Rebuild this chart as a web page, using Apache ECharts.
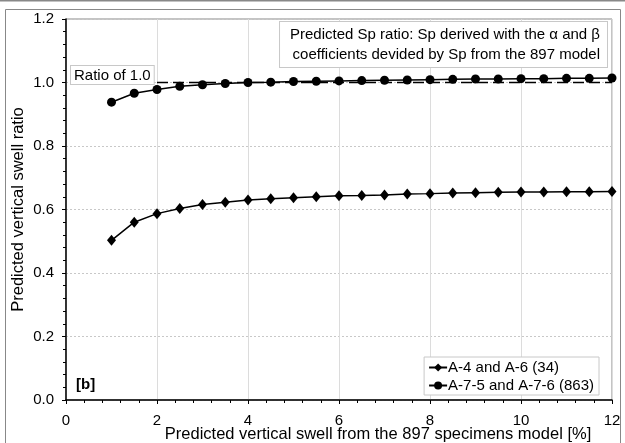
<!DOCTYPE html>
<html>
<head>
<meta charset="utf-8">
<script src="https://cdn.jsdelivr.net/npm/echarts@6/dist/echarts.min.js"></script>
<style>
  html, body { margin: 0; padding: 0; background: #fff; }
  #app { width: 625px; height: 443px; }
</style>
</head>
<body>
<div id="app"></div>
<script>
// predicted swell from the 897 model [%]
const swell = [1, 1.5, 2, 2.5, 3, 3.5, 4, 4.5, 5, 5.5, 6, 6.5, 7, 7.5, 8, 8.5, 9, 9.5, 10, 10.5, 11, 11.5, 12];
const a4a6 = [0.503, 0.560, 0.587, 0.603, 0.616, 0.623, 0.630, 0.634, 0.637, 0.640, 0.643, 0.644,
  0.646, 0.649, 0.650, 0.652, 0.653, 0.654, 0.655, 0.655, 0.656, 0.656, 0.657];
const a75a76 = [0.938, 0.966, 0.978, 0.988, 0.993, 0.997, 1.000, 1.001, 1.003, 1.004, 1.005, 1.006,
  1.007, 1.008, 1.009, 1.010, 1.011, 1.011, 1.012, 1.012, 1.013, 1.013, 1.014];
const ratioLine = [[2, 1.0], [12, 1.0]];
const seriesNames = ["A-4 and A-6 (34)", "A-7-5 and A-7-6 (863)"];

const app = document.getElementById("app");
const myChart = echarts.init(app);
const FONT = "Liberation Sans";

const pair = (ys) => swell.map((x, i) => [x, ys[i]]);

// ticks cross the axis line: outer ticks on the main axis, inner ones on a copy
const xBase = { type: "value", min: 0, max: 12, interval: 2, gridIndex: 0 };
const yBase = { type: "value", min: 0, max: 1.2, interval: 0.2, gridIndex: 0 };

const option = {
  backgroundColor: "#fff",
  animation: false,
  textStyle: { fontFamily: FONT },
  grid: {
    left: 66, right: 13, top: 19, bottom: 43,
    outerBoundsMode: "none",
    containLabel: false,
    show: true, borderColor: "#888", borderWidth: 1,
  },
  legend: {
    orient: "vertical",
    right: 26,
    bottom: 48,
    itemWidth: 18,
    itemHeight: 10,
    itemGap: 3,
    padding: [3, 5, 2, 4],
    backgroundColor: "#fff",
    borderColor: "#c8c8c8",
    borderWidth: 1,
    borderRadius: 0,
    textStyle: { fontFamily: FONT, fontSize: 15, color: "#000", padding: [0, 0, 0, -4] },
    data: seriesNames,
  },
  xAxis: [
    Object.assign({}, xBase, {
      name: "Predicted vertical swell from the 897 specimens model [%]",
      nameLocation: "middle",
      nameGap: 26,
      nameMoveOverlap: false,
      nameTextStyle: { fontFamily: FONT, fontSize: 16.5, color: "#000", padding: [0, 0, 0, 78] },
      axisLine: { lineStyle: { color: "#000", width: 1.5 } },
      axisTick: { length: 4, lineStyle: { color: "#000" } },
      minorTick: { show: true, splitNumber: 5, length: 3, lineStyle: { color: "#000" } },
      axisLabel: { fontSize: 15, color: "#000", margin: 13 },
      splitLine: { show: true, lineStyle: { color: "#dcdcdc", width: 1 } },
    }),
    Object.assign({}, xBase, {
      axisLine: { show: false },
      axisTick: { inside: true, length: 4, lineStyle: { color: "#000" } },
      minorTick: { show: true, splitNumber: 5, length: 3, lineStyle: { color: "#000" } },
      axisLabel: { show: false },
      splitLine: { show: false },
    }),
  ],
  yAxis: [
    Object.assign({}, yBase, {
      name: "Predicted vertical swell ratio",
      nameLocation: "middle",
      nameGap: 39,
      nameMoveOverlap: false,
      nameTextStyle: { fontFamily: FONT, fontSize: 16.5, color: "#000" },
      axisLine: { show: true, lineStyle: { color: "#000", width: 1.5 } },
      axisTick: { show: true, length: 4, lineStyle: { color: "#000" } },
      minorTick: { show: true, splitNumber: 5, length: 3, lineStyle: { color: "#000" } },
      axisLabel: { fontSize: 15, color: "#000", margin: 12, formatter: (v) => v.toFixed(1) },
      splitLine: { show: true, lineStyle: { color: "#c8c8c8", width: 1, type: [2, 2] } },
    }),
    Object.assign({}, yBase, {
      axisLine: { show: false },
      axisTick: { show: true, inside: true, length: 4, lineStyle: { color: "#000" } },
      minorTick: { show: true, splitNumber: 5, length: 3, lineStyle: { color: "#000" } },
      axisLabel: { show: false },
      splitLine: { show: false },
    }),
  ],
  series: [
    {
      name: "Ratio of 1.0",
      type: "line",
      data: ratioLine,
      symbol: "none",
      lineStyle: { color: "#000", width: 1.5, type: [11, 5] },
      z: 2,
    },
    {
      name: seriesNames[0],
      type: "line",
      data: pair(a4a6),
      symbol: "diamond",
      symbolSize: [9, 11],
      itemStyle: { color: "#000" },
      lineStyle: { color: "#000", width: 1.5 },
      z: 3,
    },
    {
      name: seriesNames[1],
      type: "line",
      data: pair(a75a76),
      symbol: "circle",
      symbolSize: 9,
      itemStyle: { color: "#000" },
      lineStyle: { color: "#000", width: 1.5 },
      z: 3,
    },
  ],
  graphic: [
    {
      type: "rect",
      shape: { x: 5.5, y: 9.5, width: 615, height: 440 },
      style: { fill: "none", stroke: "#888", lineWidth: 1 },
      silent: true,
      z: -10,
    },
    {
      type: "rect",
      shape: { x: 0, y: 0, width: 625, height: 1.5 },
      style: { fill: "#888" },
      silent: true,
    },
    {
      type: "text",
      x: 607,
      y: 22,
      z: 100,
      style: {
        text: "Predicted Sp ratio: Sp derived with the \u03b1 and \u03b2\ncoefficients devided by Sp from the 897 model",
        font: "15px " + FONT,
        fill: "#000",
        align: "right",
        verticalAlign: "top",
        lineHeight: 20,
        backgroundColor: "#fff",
        borderColor: "#c8c8c8",
        borderWidth: 1,
        padding: [3, 7, 2, 10],
      },
    },
    {
      type: "text",
      x: 71,
      y: 66,
      z: 100,
      style: {
        text: "Ratio of 1.0",
        font: "15px " + FONT,
        fill: "#000",
        verticalAlign: "top",
        backgroundColor: "#fff",
        borderColor: "#c8c8c8",
        borderWidth: 1,
        padding: [2, 3, 1, 3],
      },
    },
    {
      type: "text",
      x: 76,
      y: 377,
      z: 100,
      style: {
        text: "[b]",
        font: "bold 15px " + FONT,
        fill: "#000",
        verticalAlign: "top",
      },
    },
  ],
};
myChart.setOption(option);
</script>
</body>
</html>
